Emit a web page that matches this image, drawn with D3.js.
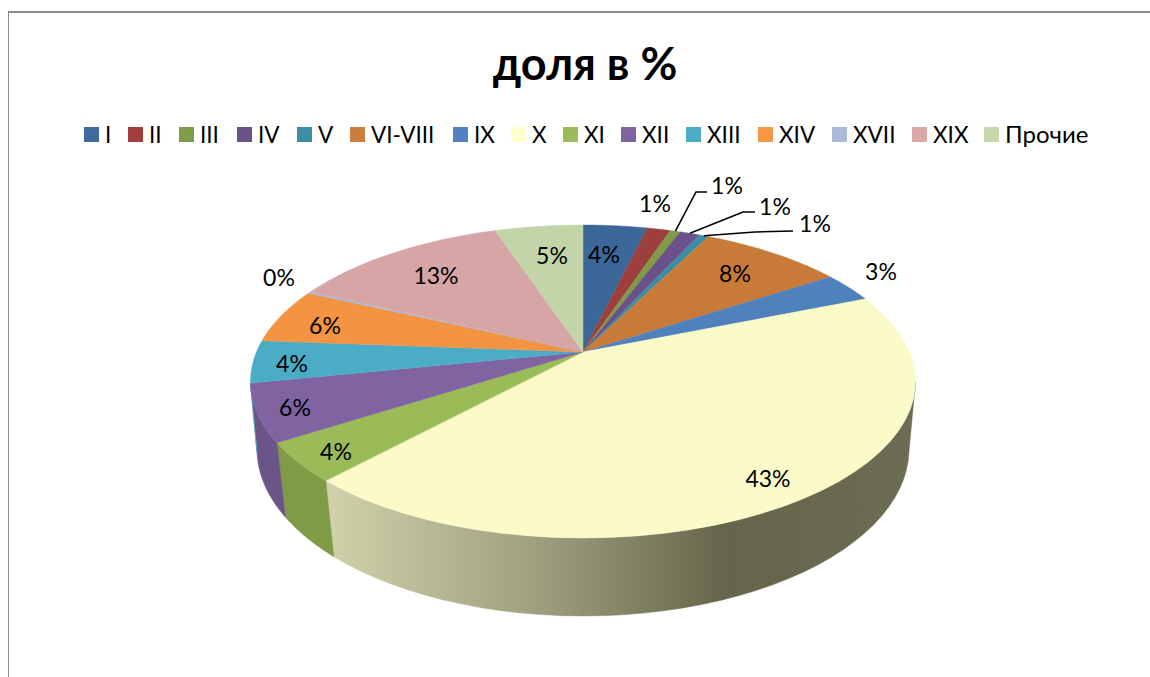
<!DOCTYPE html>
<html><head><meta charset="utf-8">
<script src="https://cdn.jsdelivr.net/npm/d3@7"></script>
<style>html,body{margin:0;background:#fff}svg{display:block}text{font-family:Lato,"Open Sans",sans-serif;fill:#000}</style>
</head><body><svg id="c" width="1150" height="677"></svg>
<script>
const titleText = "доля в %";
const categories = ["I","II","III","IV","V","VI-VIII","IX","X","XI","XII","XIII","XIV","XVII","XIX","Прочие"];
const values = [3.75,1.36,0.6,1.15,0.55,8.35,3.1,43.05,4.05,5.9,4.4,5.7,0.2,12.75,5.15];
const labels = ["4%","1%","1%","1%","1%","8%","3%","43%","4%","6%","4%","6%","0%","13%","5%"];
const topColors = ["#3c6899","#9c3f3d","#7f9a48","#6a5189","#3c8da4","#c87b38","#4f81bd","#fbfac9","#9bbb59","#8064a2","#4bacc6","#f39443","#aabad7","#d6a5a5","#c3d4a9"];
const legendColors = ["#3f6a9c","#a03f3c","#809c48","#6a5188","#3c8ea6","#cb7d3a","#5181bf","#ffffcc","#9cbb5a","#8064a2","#4bacc6","#f79646","#aabad7","#d9a9a8","#c8d8ae"];
const legendX = [84,128,179,237,297,350,453,511,563,621,686,758,832,912,984];
const labelLayout = [[604,255],[655,204],[727,186],[775,207],[815,224],[735,274],[881,272],[768,479],[336,452],[295,408],[292,364],[325,326],[279,278],[436,276],[552,256]];
const leaders = {2:[[696,192],[707,192]],3:[[743,212],[755,212]],4:[[755,232],[793,231]]};

const svg = d3.select("#c");
const defs = svg.append("defs");
const grad = defs.append("linearGradient").attr("id","wallX").attr("gradientUnits","userSpaceOnUse")
  .attr("x1",330).attr("x2",910).attr("y1",0).attr("y2",0);
[[0,"#d0d0aa"],[0.38,"#9c9c7c"],[0.68,"#65654b"],[1,"#6c6c54"]].forEach(s=>grad.append("stop").attr("offset",s[0]).attr("stop-color",s[1]));
const wallFill = {7:"url(#wallX)",8:"#7f9b45",9:"#6a5488"};

// frame
svg.append("path").attr("d","M8.5,677V12.5H1150").attr("fill","none").attr("stroke","#8c8c8c").attr("stroke-width",1);
svg.append("line").attr("x1",8).attr("x2",1150).attr("y1",12).attr("y2",12).attr("stroke","#8c8c8c").attr("stroke-width",2);

svg.append("text").attr("x",585).attr("y",80).attr("text-anchor","middle").attr("font-size",45).attr("font-weight",700).text(titleText);

// legend
categories.forEach((c,i)=>{
  svg.append("rect").attr("x",legendX[i]).attr("y",127).attr("width",15).attr("height",15).attr("fill",legendColors[i]);
  svg.append("text").attr("x",legendX[i]+21).attr("y",143).attr("font-size",i===14?24:22.5).text(c);
});

// perspective projection of a disc
function projector(cx,y0,rx,ry,p){
  const A = rx*Math.sqrt(1-p*p), B = ry*(1-p*p);
  return (a,r=1)=>{
    const u=r*Math.sin(a), v=r*Math.cos(a), w=1+p*v;
    return [cx+A*u/w, y0-B*v/w];
  };
}
const topP = projector(583,352,332.5,156.5,0.1885);
const botP = projector(583,420.6,326,167,0.17);

const arcs = d3.pie().sort(null)(values);
const line = d3.line();
const sample = (a0,a1)=>d3.range(0,41).map(i=>a0+(a1-a0)*i/40);
const rad = d=>d*Math.PI/180;
const wallMin = rad(100.9), wallMax = rad(258.6);

const walls = svg.append("g");
arcs.forEach((d,i)=>{
  const a0=Math.max(d.startAngle,wallMin), a1=Math.min(d.endAngle,wallMax);
  if(a1<=a0) return;
  const s=sample(a0,a1);
  const pts=s.map(a=>topP(a)).concat(s.slice().reverse().map(a=>botP(a)));
  walls.append("path").attr("d",line(pts)+"Z").attr("fill",wallFill[i]||topColors[i]).attr("stroke",wallFill[i]||topColors[i]).attr("stroke-width",0.5);
});

const faces = svg.append("g");
arcs.forEach((d,i)=>{
  const pts=[topP(0,0)].concat(sample(d.startAngle,d.endAngle).map(a=>topP(a)));
  faces.append("path").attr("d",line(pts)+"Z").attr("fill",topColors[i]).attr("stroke",topColors[i]).attr("stroke-width",0.4);
});

// leaders
Object.keys(leaders).forEach(k=>{
  const d=arcs[+k];
  const st=topP((d.startAngle+d.endAngle)/2);
  svg.append("path").attr("d",line([st].concat(leaders[k]))).attr("fill","none").attr("stroke","#000").attr("stroke-width",1.6);
});

labels.forEach((l,i)=>{
  svg.append("text").attr("x",labelLayout[i][0]).attr("y",labelLayout[i][1]+8).attr("text-anchor","middle").attr("font-size",23).text(l);
});
</script></body></html>
